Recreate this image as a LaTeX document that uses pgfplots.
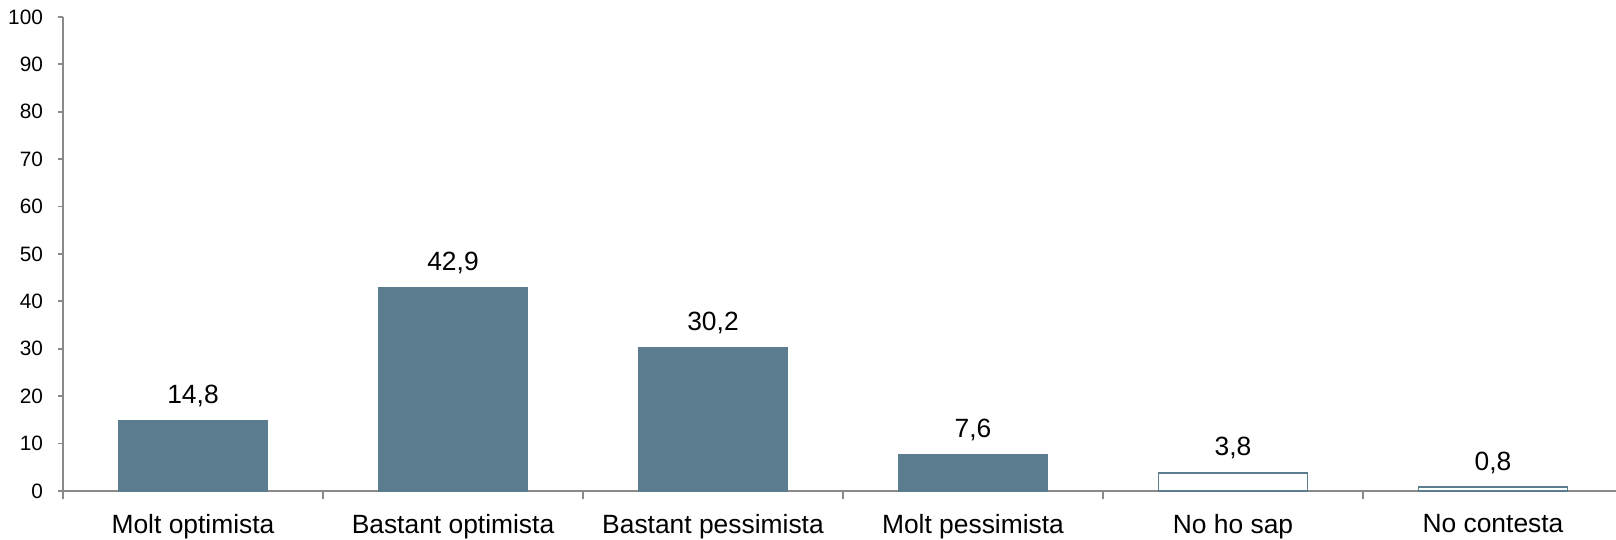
\documentclass[border=0pt]{standalone}
\usepackage{pgfplots}
\pgfplotsset{compat=1.18}
\usepackage{fontspec}
\setmainfont{Liberation Sans}
\definecolor{barblue}{HTML}{5C7D90}
\definecolor{axgray}{HTML}{8A8A8A}
\begin{document}
\begin{tikzpicture}
\begin{axis}[
  width=780pt, height=237pt, scale only axis,
  xmin=-0.5, xmax=5.5, ymin=0, ymax=100,
  axis lines*=left,
  axis line style={draw=axgray, line width=0.9pt},
  ytick={0,10,...,100},
  /pgf/number format/assume math mode=true,
  yticklabel style={font=\fontsize{10.4}{12}\selectfont, xshift=-4pt},
  ytick style={draw=axgray, line width=0.9pt},
  major tick length=2.5pt,
  tick align=outside,
  xtick={0,...,5},
  xticklabels={Molt optimista,Bastant optimista,Bastant pessimista,Molt pessimista,No ho sap,No contesta},
  xticklabel style={font=\fontsize{13.2}{15}\selectfont, yshift=-5.5pt},
  xtick style={draw=none},
  minor xtick={-0.5,0.5,...,5.5},
  minor tick length=4pt,
  minor x tick style={draw=axgray, line width=0.9pt},
  ybar, bar shift=0pt, bar width=0.573,
  nodes near coords={\pgfmathprintnumber[fixed,fixed zerofill,precision=1,use comma]{\pgfplotspointmeta}},
  every node near coord/.append style={font=\fontsize{13.2}{15}\selectfont, anchor=base, yshift=8.5pt, text=black},
  clip=false,
]
\addplot[fill=barblue, draw=barblue, line width=0.6pt] coordinates {(0,14.8) (1,42.9) (2,30.2) (3,7.6)};
\addplot[fill=white, draw=barblue, line width=0.9pt] coordinates {(4,3.8) (5,0.8)};
\end{axis}
\pgfresetboundingbox
\path[use as bounding box] (-31.5pt,-24.5pt) rectangle (776.5pt,245.5pt);
\end{tikzpicture}
\end{document}
